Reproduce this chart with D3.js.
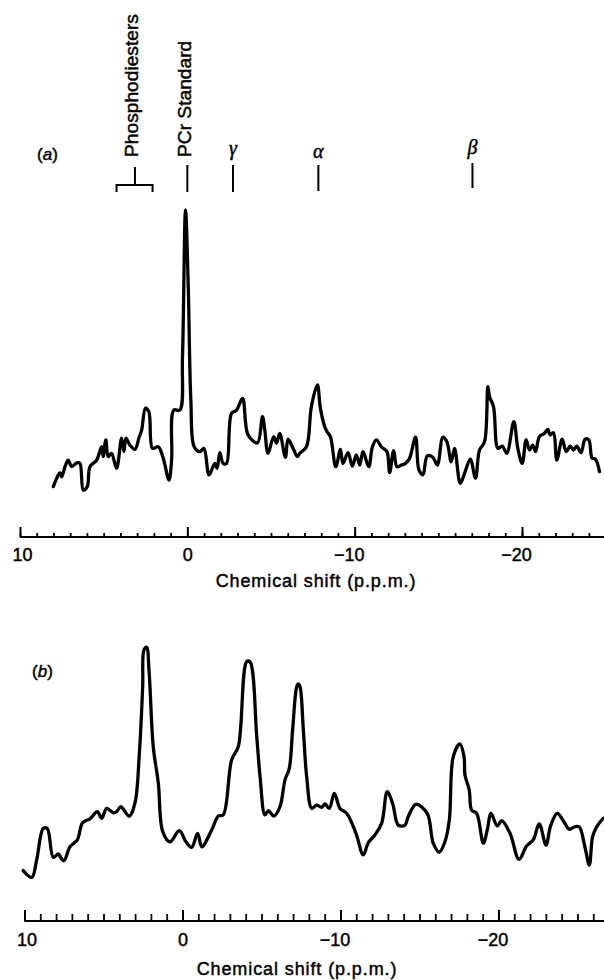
<!DOCTYPE html>
<html><head><meta charset="utf-8">
<script src="https://cdn.jsdelivr.net/npm/d3@7"></script>
<style>body{margin:0;background:#fff}svg{display:block}text{stroke:#000;stroke-width:0.45px;paint-order:stroke}</style>
</head><body><svg id="chart" width="604" height="980"></svg>
<script>
// ---- Data: panel (a) ----
const shiftA = [8.01,7.71,7.61,7.51,7.31,7.12,6.91,6.61,6.42,6.22,5.98,5.82,5.42,5.12,5.03,4.87,4.73,4.53,4.23,3.93,3.79,3.67,3.43,3.13,2.88,2.73,2.50,2.30,2.08,1.74,1.44,1.10,0.94,0.81,0.45,0.29,0.11,-0.05,-0.21,-0.41,-0.75,-0.99,-1.30,-1.64,-1.78,-1.94,-2.14,-2.34,-2.64,-2.94,-3.30,-3.63,-4.19,-4.49,-4.63,-4.82,-5.16,-5.33,-5.52,-5.86,-6.02,-6.32,-6.58,-6.72,-7.12,-7.41,-7.77,-7.95,-8.21,-8.35,-8.55,-8.87,-9.15,-9.30,-9.60,-9.86,-10.10,-10.30,-10.50,-10.84,-11.06,-11.30,-11.59,-11.93,-12.09,-12.33,-12.53,-12.79,-13.04,-13.28,-13.64,-13.84,-14.08,-14.34,-14.67,-14.94,-15.27,-15.51,-15.77,-15.97,-16.31,-16.57,-16.91,-17.22,-17.46,-17.76,-17.96,-18.06,-18.30,-18.56,-18.82,-19.09,-19.51,-19.75,-20.01,-20.25,-20.45,-20.64,-20.81,-21.04,-21.34,-21.54,-21.68,-21.88,-22.08,-22.40,-22.64,-22.88,-23.07,-23.27,-23.53,-23.77,-23.99,-24.19,-24.39,-24.63];
const intensityA = [15.4,19.0,19.6,18.4,21.5,23.5,21.5,22.7,22.5,14.4,15.4,21.5,23.5,27.6,24.6,29.7,24.6,25.6,21.0,30.2,26.1,30.2,28.1,26.8,30.5,32.7,39.4,38.3,27.1,27.6,24.1,17.4,23.5,38.8,38.8,55.1,100,77.6,41.9,27.6,26.1,27.1,19.0,22.5,21.0,25.8,22.5,22.5,37.8,38.8,42.4,31.2,28.8,36.8,32.7,25.6,30.7,28.7,31.7,24.4,29.9,27.1,24.6,25.6,27.6,39.8,46.5,39.4,33.7,32.2,30.7,21.5,26.8,22.5,25.8,21.7,25.1,22.0,26.1,21.5,27.6,29.7,27.6,26.1,19.7,26.4,21.5,22.0,22.5,24.1,30.5,20.5,19.0,24.8,24.4,22.0,30.5,29.1,23.0,27.1,16.4,19.5,23.8,18.0,26.6,29.1,46.0,42.9,39.8,27.1,27.8,25.6,35.3,27.1,22.5,29.7,26.6,28.1,26.1,30.7,31.7,32.9,31.2,31.9,23.5,29.9,26.1,27.8,26.6,27.8,25.8,29.9,29.7,24.1,23.8,20.0];

// ---- Data: panel (b) ----
const shiftB = [10.08,9.54,9.23,8.81,8.56,8.18,7.86,7.71,7.50,7.12,6.66,6.32,5.85,5.39,5.11,4.80,4.38,4.16,3.91,3.37,3.01,2.73,2.52,2.44,2.27,2.12,1.85,1.53,1.25,0.79,0.20,-0.22,-0.58,-0.96,-1.22,-1.85,-2.27,-2.58,-3.11,-3.53,-4.06,-4.27,-4.70,-4.91,-5.22,-5.43,-5.79,-6.17,-6.49,-6.76,-6.97,-7.23,-7.33,-7.44,-7.65,-7.86,-8.18,-8.49,-8.81,-9.02,-9.29,-9.61,-9.97,-10.39,-10.98,-11.44,-11.76,-12.18,-12.61,-12.96,-13.30,-13.66,-14.08,-14.29,-14.78,-15.49,-15.87,-16.25,-16.61,-16.89,-17.14,-17.56,-17.82,-17.88,-18.15,-18.30,-18.62,-19.04,-19.29,-19.53,-19.92,-20.20,-20.73,-21.30,-21.78,-22.20,-22.58,-23.01,-23.30,-23.72,-24.10,-24.48,-24.84,-25.11,-25.47,-25.75,-25.96,-26.22,-26.63];
const intensityB = [18.4,15.9,22.3,33.8,33.8,23.2,24.5,23.2,22.0,27.1,29.6,35.9,37.3,39.9,37.5,41.1,39.5,39.9,41.7,38.3,43.0,61.2,85.5,98.9,99.9,91.6,63.6,50.3,32.6,28.9,33.0,28.9,26.9,32.0,27.1,33.2,38.3,38.7,58.8,63.6,94.6,94.6,67.3,52.7,38.7,40.3,38.3,41.7,51.5,55.7,69.7,85.5,86.5,85.5,69.7,52.7,41.1,42.3,41.5,42.7,41.1,46.6,41.1,39.3,32.0,24.1,28.6,31.4,35.7,47.2,42.9,35.0,35.0,38.1,42.6,39.3,28.4,25.1,28.9,36.9,60.0,64.6,60.0,53.3,47.8,40.5,39.3,28.4,33.2,39.3,34.7,36.6,32.0,22.5,27.4,29.6,35.4,27.7,34.7,39.3,36.6,33.5,34.4,34.4,27.1,20.4,30.8,34.4,37.5];

// ---- Axis / annotation text ----
const axisTicks = [10, 0, -10, -20];
const axisTitle = "Chemical shift (p.p.m.)";
const panelLabels = ["a", "b"];
const rotatedLabels = ["Phosphodiesters", "PCr Standard"];
const rotatedShifts = [3.13, 0];
const greekLabels = ["γ", "α", "β"];
const greekShifts = [-2.73, -7.83, -17.04];
const phosphoRange = [4.23, 2.08];

const svg = d3.select("#chart");
const FONT = "'Liberation Sans', Arial, sans-serif";

const panels = [
  {data: shiftA.map((s,i)=>({s, v: intensityA[i]})), xd:[10,-24.9], xr:[20,604], yr:[537,210],
   axisY:537, minor:4, major:10, labY:24, titleY:587, titleX:316, label:panelLabels[0], labelX:37, labelY:160},
  {data: shiftB.map((s,i)=>({s, v: intensityB[i]})), xd:[10,-26.68], xr:[24.5,604], yr:[921,647],
   axisY:921, minor:7, major:11, labY:25, titleY:975, titleX:297, label:panelLabels[1], labelX:32, labelY:677}
];

panels.forEach((p, idx) => {
  const x = d3.scaleLinear().domain(p.xd).range(p.xr);
  const y = d3.scaleLinear().domain([0,100]).range(p.yr);
  p.x = x;

  // spectrum line
  const line = d3.line().x(d=>x(d.s)).y(d=>y(d.v)).curve(d3.curveCatmullRom.alpha(0.5));
  svg.append("path").datum(p.data).attr("d", line)
    .attr("fill","none").attr("stroke","#000").attr("stroke-width",3.3)
    .attr("stroke-linejoin","round").attr("stroke-linecap","round");

  // minor ticks
  const minorVals = d3.range(10, p.xd[1], -1);
  const gMinor = svg.append("g").attr("transform",`translate(0,${p.axisY})`)
    .call(d3.axisBottom(x).tickValues(minorVals).tickSizeInner(-p.minor).tickSizeOuter(0).tickFormat(""));
  gMinor.select(".domain").attr("d", `M${p.xr[0]},0H${p.xr[1]}`).attr("stroke-width",2.2);
  gMinor.selectAll(".tick line").attr("stroke-width",1.8);

  // major ticks with labels
  const gMajor = svg.append("g").attr("transform",`translate(0,${p.axisY})`)
    .call(d3.axisBottom(x).tickValues(axisTicks).tickSizeInner(-p.major).tickSizeOuter(0).tickFormat(d3.format("")));
  gMajor.select(".domain").remove();
  gMajor.selectAll(".tick line").attr("stroke-width",2);
  gMajor.selectAll(".tick text")
    .attr("y", p.labY).attr("dy", 0)
    .attr("dx", d => d < 0 ? -6 : (d > 0 ? 2 : 0))
    .attr("font-family", FONT).attr("font-size", 18).attr("fill","#000");

  // title
  svg.append("text").attr("x", p.titleX).attr("y", p.titleY).attr("text-anchor","middle")
    .attr("font-family", FONT).attr("font-size", 18).attr("letter-spacing", 0.9).text(axisTitle);

  // panel label
  const t = svg.append("text").attr("x", p.labelX).attr("y", p.labelY)
    .attr("font-family", FONT).attr("font-size", 17);
  t.append("tspan").text("(");
  t.append("tspan").attr("font-style","italic").text(p.label);
  t.append("tspan").text(")");
});

// ---- annotations for panel (a) ----
const xa = panels[0].x;
const ann = svg.append("g").attr("stroke","#000").attr("stroke-width",2).attr("fill","none");
// Phosphodiesters bracket
ann.append("path").attr("d",
  `M${xa(phosphoRange[0])},192V185H${xa(phosphoRange[1])}V192` +
  `M${xa(rotatedShifts[0])},185V167`);
// PCr tick
ann.append("line").attr("x1", xa(rotatedShifts[1])).attr("x2", xa(rotatedShifts[1])).attr("y1",165).attr("y2",192);
// greek ticks
const greekTickTop = [165, 165, 163];
const greekTickBot = [192, 191, 188];
greekShifts.forEach((s,i)=>{
  ann.append("line").attr("x1", xa(s)).attr("x2", xa(s)).attr("y1", greekTickTop[i]).attr("y2", greekTickBot[i]);
});

// rotated labels
const rotBaseX = [138, 191];
rotatedLabels.forEach((lab,i)=>{
  const bx = rotBaseX[i];
  svg.append("text").attr("transform", `translate(${bx},157) rotate(-90)`)
    .attr("font-family", FONT).attr("font-size", 19.2).attr("text-anchor","start").text(lab);
});

// greek labels
const greekBase = [155, 158, 154];
greekLabels.forEach((g,i)=>{
  svg.append("text").attr("x", xa(greekShifts[i])).attr("y", greekBase[i]).attr("text-anchor","middle")
    .attr("font-family","'Liberation Serif', 'DejaVu Serif', serif").attr("font-style","italic")
    .attr("font-size", 20).text(g);
});
</script></body></html>
